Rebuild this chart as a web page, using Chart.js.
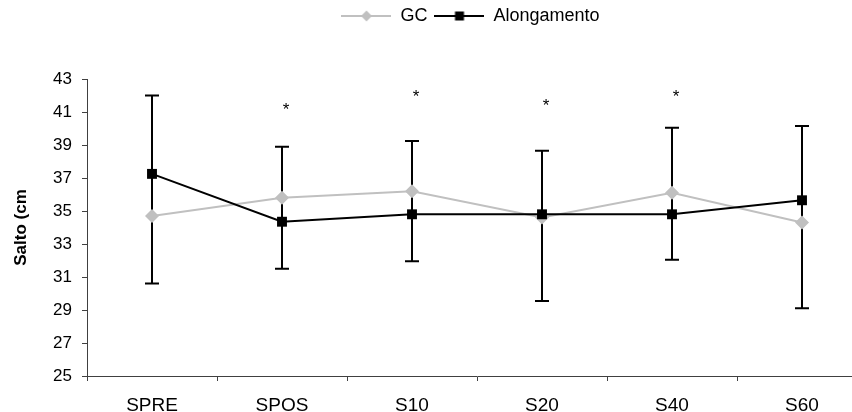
<!DOCTYPE html>
<html>
<head>
<meta charset="utf-8">
<script src="https://cdn.jsdelivr.net/npm/chart.js@4.4.1/dist/chart.umd.min.js"></script>
<style>
  html, body { margin: 0; padding: 0; background: #fff; overflow: hidden; }
  #wrap { width: 852px; height: 412px; overflow: hidden; }
</style>
</head>
<body>
<div id="wrap"><canvas id="myChart" width="880" height="412"></canvas></div>
<script>
const sessions = ['SPRE', 'SPOS', 'S10', 'S20', 'S40', 'S60'];
const gcValues = [34.7, 35.8, 36.2, 34.6, 36.1, 34.3];
const alongValues = [37.25, 34.35, 34.8, 34.8, 34.8, 35.65];
const errHigh = [42.0, 38.9, 39.25, 38.65, 40.05, 40.15];
const errLow = [30.6, 31.5, 31.95, 29.55, 32.05, 29.1];
const starValues = [null, 41.3, 42.1, 41.5, 42.1, null];

const GREY = '#c0c0c0';
const FONT = "'Liberation Sans', Arial, sans-serif";

// little legend pictures: line with the marker in the middle
function legendPic(color, marker) {
  const c = document.createElement('canvas');
  c.width = 50; c.height = 14;
  const g = c.getContext('2d');
  g.strokeStyle = color; g.lineWidth = 2;
  g.beginPath(); g.moveTo(0, 7); g.lineTo(50, 7); g.stroke();
  g.fillStyle = color;
  if (marker === 'diamond') {
    g.beginPath(); g.moveTo(25, 1.5); g.lineTo(30.5, 7); g.lineTo(25, 12.5); g.lineTo(19.5, 7); g.closePath(); g.fill();
  } else {
    g.fillRect(20.5, 2.5, 9, 9);
  }
  return c;
}
const pics = [legendPic(GREY, 'diamond'), legendPic('#000', 'square')];

// legend sits a bit right of centre and leaves a gap above the plot
const legendTweak = {
  id: 'legendTweak',
  beforeInit(chart) {
    const lg = chart.legend;
    const fit = lg.fit;
    lg.fit = function () { fit.call(this); this.height += 44; };
    const draw = lg.draw;
    lg.draw = function () {
      chart.ctx.save();
      chart.ctx.translate(37, 0);
      draw.call(this);
      chart.ctx.restore();
    };
  }
};

const errorBars = {
  id: 'errorBars',
  beforeDatasetsDraw(chart) {
    const ctx = chart.ctx;
    const x = chart.scales.x, y = chart.scales.y;
    ctx.save();
    ctx.strokeStyle = '#000';
    ctx.lineWidth = 2;
    sessions.forEach((s, i) => {
      const px = x.getPixelForValue(i);
      const top = y.getPixelForValue(errHigh[i]);
      const bot = y.getPixelForValue(errLow[i]);
      ctx.beginPath();
      ctx.moveTo(px, top); ctx.lineTo(px, bot);
      ctx.moveTo(px - 7, top); ctx.lineTo(px + 7, top);
      ctx.moveTo(px - 7, bot); ctx.lineTo(px + 7, bot);
      ctx.stroke();
    });
    ctx.restore();
  },
  afterDatasetsDraw(chart) {
    const ctx = chart.ctx;
    const x = chart.scales.x, y = chart.scales.y;
    ctx.save();
    ctx.fillStyle = '#000';
    ctx.font = '17px ' + FONT;
    ctx.textAlign = 'center';
    ctx.textBaseline = 'middle';
    starValues.forEach((v, i) => {
      if (v === null) return;
      ctx.fillText('*', x.getPixelForValue(i) + 4, y.getPixelForValue(v) + 3);
    });
    ctx.restore();
  }
};

const ctx = document.getElementById('myChart').getContext('2d');
const chart = new Chart(ctx, {
  type: 'line',
  data: {
    labels: sessions,
    datasets: [{
      label: 'GC',
      data: gcValues,
      borderColor: GREY,
      backgroundColor: GREY,
      borderWidth: 2,
      pointStyle: 'rectRot',
      pointRadius: 7,
      pointBorderWidth: 0,
      order: 2
    }, {
      label: 'Alongamento',
      data: alongValues,
      borderColor: '#000',
      backgroundColor: '#000',
      borderWidth: 2,
      pointStyle: 'rect',
      pointRadius: 7,
      pointBorderWidth: 0,
      order: 1
    }]
  },
  options: {
    responsive: false,
    animation: false,
    layout: { padding: { top: 0, right: 13, bottom: 0, left: 0 } },
    plugins: {
      tooltip: { enabled: false },
      legend: {
        position: 'top',
        labels: {
          usePointStyle: true,
          pointStyleWidth: 50,
          padding: 7,
          color: '#000',
          font: { family: FONT, size: 18 },
          generateLabels(chart) {
            return chart.data.datasets.map((d, i) => ({
              text: d.label,
              pointStyle: pics[i],
              datasetIndex: i,
              hidden: false,
              lineWidth: 0,
              fontColor: '#000'
            }));
          }
        }
      }
    },
    scales: {
      x: {
        offset: true,
        border: { color: '#404040', width: 1 },
        grid: { offset: true, drawOnChartArea: false, tickLength: 5, color: '#404040' },
        ticks: { color: '#000', padding: 13, font: { family: FONT, size: 19 } },
        afterFit(scale) { scale.height = 36; }
      },
      y: {
        min: 25,
        max: 43,
        border: { color: '#404040', width: 1 },
        grid: { drawOnChartArea: false, tickLength: 5, color: '#404040' },
        ticks: { stepSize: 2, color: '#000', padding: 10, font: { family: FONT, size: 17 } },
        title: {
          display: true,
          text: 'Salto (cm',
          color: '#000',
          padding: { top: 11, bottom: 0 },
          font: { family: FONT, size: 17, weight: 'bold' }
        },
        afterFit(scale) { scale.width = 87; }
      }
    }
  },
  plugins: [legendTweak, errorBars]
});
</script>
</body>
</html>
